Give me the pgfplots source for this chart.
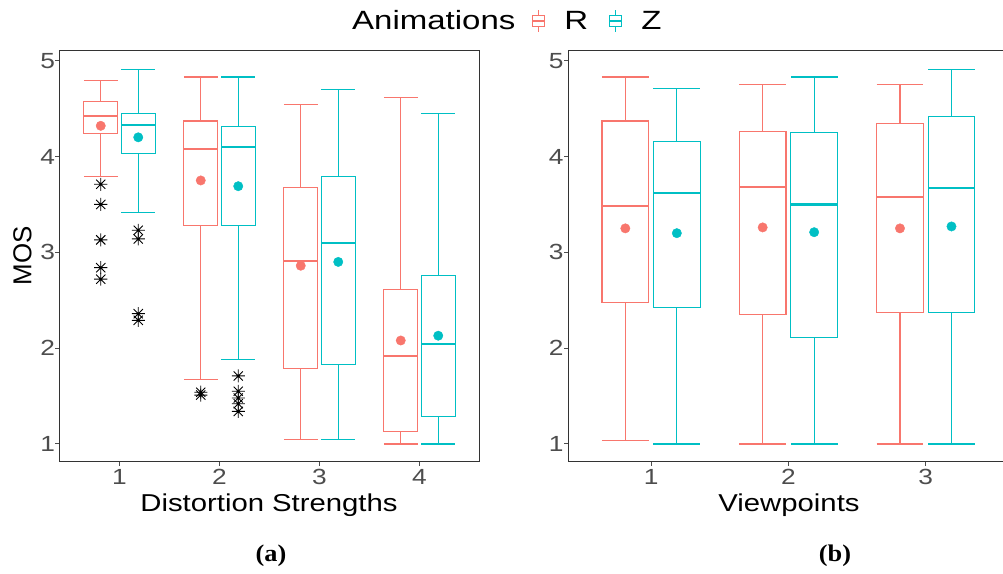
\documentclass[border=0pt]{standalone}
\usepackage{pgfplots}
\pgfplotsset{compat=1.18}
\usepgfplotslibrary{statistics}
\usepackage{fontspec}
\setmainfont{Liberation Sans}
\newfontfamily\lsans{Liberation Sans}[FakeStretch=1.2]
\newfontfamily\lsansL{Liberation Sans}[FakeStretch=1.25]
\newfontfamily\lsansN{Liberation Sans}
\newfontfamily\lserif{Liberation Serif}[FakeStretch=1.1]
\definecolor{Rcol}{HTML}{F8766D}
\definecolor{Zcol}{HTML}{00BFC4}
\definecolor{framec}{HTML}{333333}
\definecolor{tickgray}{HTML}{4D4D4D}

\pgfdeclareplotmark{ast8}{%
 \pgfpathmoveto{\pgfqpoint{-\pgfplotmarksize}{0pt}}\pgfpathlineto{\pgfqpoint{\pgfplotmarksize}{0pt}}%
 \pgfpathmoveto{\pgfqpoint{0pt}{-\pgfplotmarksize}}\pgfpathlineto{\pgfqpoint{0pt}{\pgfplotmarksize}}%
 \pgfpathmoveto{\pgfqpoint{-.7071\pgfplotmarksize}{-.7071\pgfplotmarksize}}\pgfpathlineto{\pgfqpoint{.7071\pgfplotmarksize}{.7071\pgfplotmarksize}}%
 \pgfpathmoveto{\pgfqpoint{-.7071\pgfplotmarksize}{.7071\pgfplotmarksize}}\pgfpathlineto{\pgfqpoint{.7071\pgfplotmarksize}{-.7071\pgfplotmarksize}}%
 \pgfusepathqstroke}

\pgfplotsset{
 bx/.style={boxplot/draw direction=y, line width=1.1bp, mark=ast8, mark size=6.5bp,
   mark options={draw=black, fill=black, line width=0.9bp, solid},
   boxplot/box extend=0.34, boxplot/whisker extend=0.34,
   boxplot/every median/.style={line width=2.2bp}, forget plot},
 bxR/.style={bx, color=Rcol},
 bxZ/.style={bx, color=Zcol},
 mnR/.style={only marks, mark=*, mark size=4.7bp, color=Rcol, forget plot},
 mnZ/.style={only marks, mark=*, mark size=4.7bp, color=Zcol, forget plot},
 ax/.style={scale only axis, anchor=south west, ymin=0.812, ymax=5.104, ytick={1,2,3,4,5},
   axis line style={framec, line width=1bp},
   every tick/.style={tickgray, line width=1bp},
   tick align=outside, major tick length=4bp, xtick pos=bottom, ytick pos=left,
   tick label style={font=\lsans\fontsize{22}{24}\selectfont, text=tickgray},
   yticklabel style={xshift=3bp},
   /pgf/number format/assume math mode=true, clip=false},
 legicon/.style={legend image code/.code={%
  \path[draw=none] (-#1,0bp) -- (32bp,0bp);
  \draw (6bp,5.5bp) -- (6bp,10.7bp) (6bp,-5.5bp) -- (6bp,-10.7bp);
  \draw (0bp,-5.5bp) rectangle (12bp,5.5bp);
  \draw (0bp,0bp) -- (12bp,0bp);}},
}

\begin{document}
\begin{tikzpicture}
\path[use as bounding box] (0bp,0bp) rectangle (1003bp,574bp);

% ---------- (a) Distortion strengths ----------
\begin{axis}[ax, at={(59.5bp,112bp)}, width=420bp, height=411.3bp,
  xmin=0.4, xmax=4.6, xtick={1,2,3,4},
  legend columns=-1,
  legend style={at={(0.6964,1.0722)}, anchor=west, draw=none, fill=none,
    inner sep=0pt, column sep=0pt, nodes={inner sep=0pt},
    font=\lsansL\fontsize{26.5}{28}\selectfont, text=black}]
\addlegendimage{empty legend}
\addlegendentry{Animations}
\addlegendimage{color=Rcol, line width=1.1bp, mark=none, legicon=17bp}
\addlegendentry{R}
\addlegendimage{color=Zcol, line width=1.1bp, mark=none, legicon=21bp}
\addlegendentry{Z}

% category 1
\addplot[bxR, boxplot prepared={draw position=0.8125, lower whisker=3.79, lower quartile=4.24, median=4.42, upper quartile=4.575, upper whisker=4.79}]
  coordinates {(0,3.71) (0,3.50) (0,3.13) (0,2.84) (0,2.72)};
\addplot[bxZ, boxplot prepared={draw position=1.1875, lower whisker=3.42, lower quartile=4.03, median=4.33, upper quartile=4.45, upper whisker=4.91}]
  coordinates {(0,3.23) (0,3.14) (0,2.36) (0,2.29)};
% category 2
\addplot[bxR, boxplot prepared={draw position=1.8125, lower whisker=1.67, lower quartile=3.28, median=4.08, upper quartile=4.37, upper whisker=4.83}]
  coordinates {(0,1.54) (0,1.51)};
\addplot[bxZ, boxplot prepared={draw position=2.1875, lower whisker=1.88, lower quartile=3.28, median=4.10, upper quartile=4.31, upper whisker=4.83}]
  coordinates {(0,1.71) (0,1.55) (0,1.48) (0,1.42) (0,1.34)};
% category 3
\addplot[bxR, boxplot prepared={draw position=2.8125, lower whisker=1.045, lower quartile=1.79, median=2.91, upper quartile=3.68, upper whisker=4.54}]
  coordinates {};
\addplot[bxZ, boxplot prepared={draw position=3.1875, lower whisker=1.045, lower quartile=1.83, median=3.10, upper quartile=3.79, upper whisker=4.70}]
  coordinates {};
% category 4
\addplot[bxR, boxplot prepared={draw position=3.8125, lower whisker=1.00, lower quartile=1.13, median=1.92, upper quartile=2.61, upper whisker=4.62}]
  coordinates {};
\addplot[bxZ, boxplot prepared={draw position=4.1875, lower whisker=1.00, lower quartile=1.29, median=2.04, upper quartile=2.76, upper whisker=4.45}]
  coordinates {};
% means
\addplot[mnR] coordinates {(0.8125,4.32) (1.8125,3.75) (2.8125,2.86) (3.8125,2.08)};
\addplot[mnZ] coordinates {(1.1875,4.20) (2.1875,3.69) (3.1875,2.90) (4.1875,2.13)};
\end{axis}

% ---------- (b) Viewpoints ----------
\begin{axis}[ax, at={(568bp,112bp)}, width=436bp, height=411.3bp,
  xmin=0.395, xmax=3.57, xtick={1,2,3}]
\addplot[bxR, boxplot prepared={draw position=0.8125, lower whisker=1.04, lower quartile=2.48, median=3.48, upper quartile=4.37, upper whisker=4.83}] coordinates {};
\addplot[bxZ, boxplot prepared={draw position=1.1875, lower whisker=1.00, lower quartile=2.42, median=3.62, upper quartile=4.16, upper whisker=4.71}] coordinates {};
\addplot[bxR, boxplot prepared={draw position=1.8125, lower whisker=1.00, lower quartile=2.35, median=3.68, upper quartile=4.26, upper whisker=4.75}] coordinates {};
\addplot[bxZ, boxplot prepared={draw position=2.1875, lower whisker=1.00, lower quartile=2.11, median=3.50, upper quartile=4.25, upper whisker=4.83}] coordinates {};
\addplot[bxR, boxplot prepared={draw position=2.8125, lower whisker=1.00, lower quartile=2.375, median=3.58, upper quartile=4.34, upper whisker=4.75}] coordinates {};
\addplot[bxZ, boxplot prepared={draw position=3.1875, lower whisker=1.00, lower quartile=2.375, median=3.67, upper quartile=4.42, upper whisker=4.91}] coordinates {};
\addplot[mnR] coordinates {(0.8125,3.25) (1.8125,3.26) (2.8125,3.25)};
\addplot[mnZ] coordinates {(1.1875,3.20) (2.1875,3.21) (3.1875,3.27)};
\end{axis}

% axis titles and panel captions
\node[font=\lsans\fontsize{24.5}{26}\selectfont, anchor=base] at (269bp,62bp) {Distortion Strengths};
\node[font=\lsans\fontsize{24.5}{26}\selectfont, anchor=base] at (789bp,62bp) {Viewpoints};
\node[font=\lsansN\fontsize{26}{28}\selectfont, rotate=90] at (22.5bp,318bp) {MOS};
\node[font=\lserif\bfseries\fontsize{24}{26}\selectfont] at (271bp,18bp) {(a)};
\node[font=\lserif\bfseries\fontsize{24}{26}\selectfont] at (835bp,18bp) {(b)};
\end{tikzpicture}
\end{document}
